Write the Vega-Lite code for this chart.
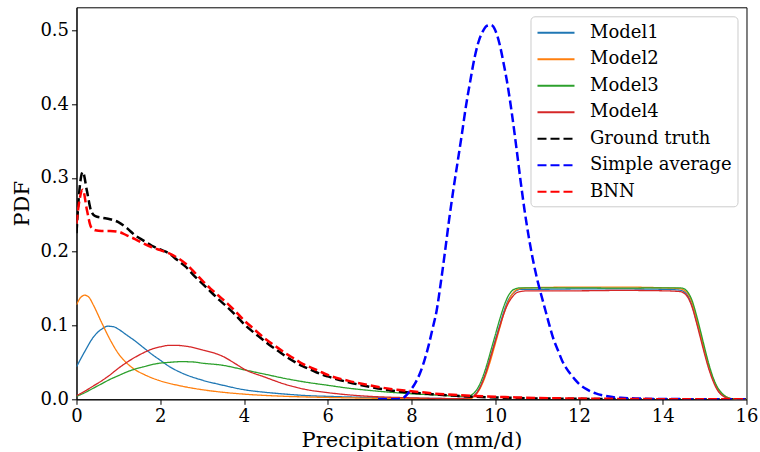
{
"$schema":"https://vega.github.io/schema/vega-lite/v6.json",
"width":670,"height":392,
"autosize":{"type":"none"},
"padding":{"left":76.5,"top":7.3,"right":13.3,"bottom":52.7},
"background":"white",
"datasets":{"pdf":[
{"s":"Model1","x":0,"y":0.044},{"s":"Model1","x":0.2,"y":0.065},{"s":"Model1","x":0.4,"y":0.084},{"s":"Model1","x":0.6,"y":0.095},{"s":"Model1","x":0.75,"y":0.099},{"s":"Model1","x":0.9,"y":0.098},{"s":"Model1","x":1.0,"y":0.095},{"s":"Model1","x":1.2,"y":0.087},{"s":"Model1","x":1.4,"y":0.079},{"s":"Model1","x":1.6,"y":0.070},{"s":"Model1","x":1.8,"y":0.061},{"s":"Model1","x":2.0,"y":0.053},{"s":"Model1","x":2.2,"y":0.045},{"s":"Model1","x":2.5,"y":0.036},{"s":"Model1","x":3.0,"y":0.026},{"s":"Model1","x":3.5,"y":0.019},{"s":"Model1","x":4.0,"y":0.013},{"s":"Model1","x":4.5,"y":0.0095},{"s":"Model1","x":5.0,"y":0.007},{"s":"Model1","x":5.5,"y":0.005},{"s":"Model1","x":6.0,"y":0.004},{"s":"Model1","x":7,"y":0.0025},{"s":"Model1","x":8,"y":0.0015},{"s":"Model1","x":9,"y":0.001},{"s":"Model1","x":9.4,"y":0.002},{"s":"Model1","x":9.5,"y":0.005},{"s":"Model1","x":9.6,"y":0.013},{"s":"Model1","x":9.7,"y":0.025},{"s":"Model1","x":9.8,"y":0.041},{"s":"Model1","x":9.9,"y":0.060},{"s":"Model1","x":10.0,"y":0.080},{"s":"Model1","x":10.1,"y":0.099},{"s":"Model1","x":10.2,"y":0.118},{"s":"Model1","x":10.3,"y":0.133},{"s":"Model1","x":10.4,"y":0.142},{"s":"Model1","x":10.5,"y":0.147},{"s":"Model1","x":10.6,"y":0.149},{"s":"Model1","x":11,"y":0.149},{"s":"Model1","x":12,"y":0.1495},{"s":"Model1","x":13,"y":0.1495},{"s":"Model1","x":14,"y":0.149},{"s":"Model1","x":14.4,"y":0.148},{"s":"Model1","x":14.5,"y":0.146},{"s":"Model1","x":14.6,"y":0.140},{"s":"Model1","x":14.7,"y":0.127},{"s":"Model1","x":14.8,"y":0.107},{"s":"Model1","x":14.9,"y":0.086},{"s":"Model1","x":15.0,"y":0.064},{"s":"Model1","x":15.1,"y":0.043},{"s":"Model1","x":15.2,"y":0.027},{"s":"Model1","x":15.3,"y":0.015},{"s":"Model1","x":15.4,"y":0.007},{"s":"Model1","x":15.5,"y":0.003},{"s":"Model1","x":15.6,"y":0.001},{"s":"Model1","x":15.8,"y":0},{"s":"Model1","x":16,"y":0},
{"s":"Model2","x":0,"y":0.128},{"s":"Model2","x":0.1,"y":0.138},{"s":"Model2","x":0.2,"y":0.141},{"s":"Model2","x":0.3,"y":0.138},{"s":"Model2","x":0.4,"y":0.128},{"s":"Model2","x":0.6,"y":0.104},{"s":"Model2","x":0.8,"y":0.081},{"s":"Model2","x":1.0,"y":0.062},{"s":"Model2","x":1.2,"y":0.049},{"s":"Model2","x":1.4,"y":0.040},{"s":"Model2","x":1.6,"y":0.034},{"s":"Model2","x":1.8,"y":0.029},{"s":"Model2","x":2.0,"y":0.025},{"s":"Model2","x":2.5,"y":0.018},{"s":"Model2","x":3.0,"y":0.013},{"s":"Model2","x":3.5,"y":0.0095},{"s":"Model2","x":4.0,"y":0.007},{"s":"Model2","x":5.0,"y":0.004},{"s":"Model2","x":6.0,"y":0.0025},{"s":"Model2","x":7,"y":0.0015},{"s":"Model2","x":8,"y":0.001},{"s":"Model2","x":9,"y":0.0007},{"s":"Model2","x":9.4,"y":0.001},{"s":"Model2","x":9.5,"y":0.004},{"s":"Model2","x":9.6,"y":0.011},{"s":"Model2","x":9.7,"y":0.022},{"s":"Model2","x":9.8,"y":0.037},{"s":"Model2","x":9.9,"y":0.055},{"s":"Model2","x":10.0,"y":0.075},{"s":"Model2","x":10.1,"y":0.095},{"s":"Model2","x":10.2,"y":0.115},{"s":"Model2","x":10.3,"y":0.131},{"s":"Model2","x":10.4,"y":0.142},{"s":"Model2","x":10.5,"y":0.148},{"s":"Model2","x":10.6,"y":0.150},{"s":"Model2","x":10.8,"y":0.151},{"s":"Model2","x":12,"y":0.152},{"s":"Model2","x":13,"y":0.152},{"s":"Model2","x":14,"y":0.151},{"s":"Model2","x":14.4,"y":0.150},{"s":"Model2","x":14.5,"y":0.148},{"s":"Model2","x":14.6,"y":0.143},{"s":"Model2","x":14.7,"y":0.131},{"s":"Model2","x":14.8,"y":0.111},{"s":"Model2","x":14.9,"y":0.089},{"s":"Model2","x":15.0,"y":0.066},{"s":"Model2","x":15.1,"y":0.045},{"s":"Model2","x":15.2,"y":0.028},{"s":"Model2","x":15.3,"y":0.016},{"s":"Model2","x":15.4,"y":0.008},{"s":"Model2","x":15.5,"y":0.004},{"s":"Model2","x":15.6,"y":0.0015},{"s":"Model2","x":15.7,"y":0.0005},{"s":"Model2","x":15.8,"y":0},{"s":"Model2","x":16,"y":0},
{"s":"Model3","x":0,"y":0.004},{"s":"Model3","x":0.2,"y":0.009},{"s":"Model3","x":0.4,"y":0.015},{"s":"Model3","x":0.6,"y":0.021},{"s":"Model3","x":0.8,"y":0.027},{"s":"Model3","x":1.0,"y":0.032},{"s":"Model3","x":1.2,"y":0.037},{"s":"Model3","x":1.4,"y":0.041},{"s":"Model3","x":1.6,"y":0.044},{"s":"Model3","x":1.8,"y":0.047},{"s":"Model3","x":2.0,"y":0.049},{"s":"Model3","x":2.2,"y":0.050},{"s":"Model3","x":2.5,"y":0.051},{"s":"Model3","x":2.8,"y":0.0505},{"s":"Model3","x":3.0,"y":0.049},{"s":"Model3","x":3.5,"y":0.046},{"s":"Model3","x":4.0,"y":0.040},{"s":"Model3","x":4.5,"y":0.034},{"s":"Model3","x":5.0,"y":0.028},{"s":"Model3","x":5.5,"y":0.023},{"s":"Model3","x":6.0,"y":0.019},{"s":"Model3","x":6.5,"y":0.015},{"s":"Model3","x":7.0,"y":0.012},{"s":"Model3","x":7.5,"y":0.0095},{"s":"Model3","x":8.0,"y":0.0075},{"s":"Model3","x":8.5,"y":0.006},{"s":"Model3","x":9.0,"y":0.0045},{"s":"Model3","x":9.3,"y":0.004},{"s":"Model3","x":9.4,"y":0.005},{"s":"Model3","x":9.5,"y":0.009},{"s":"Model3","x":9.6,"y":0.017},{"s":"Model3","x":9.7,"y":0.030},{"s":"Model3","x":9.8,"y":0.047},{"s":"Model3","x":9.9,"y":0.067},{"s":"Model3","x":10.0,"y":0.087},{"s":"Model3","x":10.1,"y":0.107},{"s":"Model3","x":10.2,"y":0.125},{"s":"Model3","x":10.3,"y":0.139},{"s":"Model3","x":10.4,"y":0.147},{"s":"Model3","x":10.5,"y":0.150},{"s":"Model3","x":10.6,"y":0.151},{"s":"Model3","x":12,"y":0.151},{"s":"Model3","x":13,"y":0.1505},{"s":"Model3","x":14,"y":0.151},{"s":"Model3","x":14.4,"y":0.151},{"s":"Model3","x":14.5,"y":0.150},{"s":"Model3","x":14.6,"y":0.145},{"s":"Model3","x":14.7,"y":0.134},{"s":"Model3","x":14.8,"y":0.115},{"s":"Model3","x":14.9,"y":0.093},{"s":"Model3","x":15.0,"y":0.070},{"s":"Model3","x":15.1,"y":0.048},{"s":"Model3","x":15.2,"y":0.030},{"s":"Model3","x":15.3,"y":0.017},{"s":"Model3","x":15.4,"y":0.009},{"s":"Model3","x":15.5,"y":0.004},{"s":"Model3","x":15.6,"y":0.0015},{"s":"Model3","x":15.8,"y":0},{"s":"Model3","x":16,"y":0},
{"s":"Model4","x":0,"y":0.005},{"s":"Model4","x":0.2,"y":0.011},{"s":"Model4","x":0.4,"y":0.018},{"s":"Model4","x":0.6,"y":0.025},{"s":"Model4","x":0.8,"y":0.033},{"s":"Model4","x":1.0,"y":0.042},{"s":"Model4","x":1.2,"y":0.050},{"s":"Model4","x":1.4,"y":0.057},{"s":"Model4","x":1.6,"y":0.063},{"s":"Model4","x":1.8,"y":0.068},{"s":"Model4","x":2.0,"y":0.071},{"s":"Model4","x":2.2,"y":0.073},{"s":"Model4","x":2.4,"y":0.073},{"s":"Model4","x":2.6,"y":0.072},{"s":"Model4","x":2.8,"y":0.070},{"s":"Model4","x":3.0,"y":0.067},{"s":"Model4","x":3.5,"y":0.058},{"s":"Model4","x":3.8,"y":0.048},{"s":"Model4","x":4.0,"y":0.041},{"s":"Model4","x":4.5,"y":0.030},{"s":"Model4","x":5.0,"y":0.020},{"s":"Model4","x":5.5,"y":0.013},{"s":"Model4","x":6.0,"y":0.009},{"s":"Model4","x":6.5,"y":0.006},{"s":"Model4","x":7.0,"y":0.004},{"s":"Model4","x":8,"y":0.002},{"s":"Model4","x":9,"y":0.001},{"s":"Model4","x":9.4,"y":0.002},{"s":"Model4","x":9.5,"y":0.005},{"s":"Model4","x":9.6,"y":0.012},{"s":"Model4","x":9.7,"y":0.024},{"s":"Model4","x":9.8,"y":0.040},{"s":"Model4","x":9.9,"y":0.059},{"s":"Model4","x":10.0,"y":0.078},{"s":"Model4","x":10.1,"y":0.097},{"s":"Model4","x":10.2,"y":0.115},{"s":"Model4","x":10.3,"y":0.129},{"s":"Model4","x":10.4,"y":0.138},{"s":"Model4","x":10.5,"y":0.144},{"s":"Model4","x":10.6,"y":0.146},{"s":"Model4","x":10.8,"y":0.147},{"s":"Model4","x":12,"y":0.147},{"s":"Model4","x":13,"y":0.1475},{"s":"Model4","x":14,"y":0.147},{"s":"Model4","x":14.4,"y":0.146},{"s":"Model4","x":14.5,"y":0.144},{"s":"Model4","x":14.6,"y":0.138},{"s":"Model4","x":14.7,"y":0.125},{"s":"Model4","x":14.8,"y":0.105},{"s":"Model4","x":14.9,"y":0.083},{"s":"Model4","x":15.0,"y":0.061},{"s":"Model4","x":15.1,"y":0.041},{"s":"Model4","x":15.2,"y":0.025},{"s":"Model4","x":15.3,"y":0.013},{"s":"Model4","x":15.4,"y":0.006},{"s":"Model4","x":15.5,"y":0.0025},{"s":"Model4","x":15.6,"y":0.001},{"s":"Model4","x":15.8,"y":0},{"s":"Model4","x":16,"y":0},
{"s":"Ground truth","x":0,"y":0.225},{"s":"Ground truth","x":0.05,"y":0.27},{"s":"Ground truth","x":0.15,"y":0.308},{"s":"Ground truth","x":0.25,"y":0.282},{"s":"Ground truth","x":0.35,"y":0.255},{"s":"Ground truth","x":0.45,"y":0.248},{"s":"Ground truth","x":0.6,"y":0.246},{"s":"Ground truth","x":0.8,"y":0.244},{"s":"Ground truth","x":1.0,"y":0.240},{"s":"Ground truth","x":1.2,"y":0.232},{"s":"Ground truth","x":1.4,"y":0.222},{"s":"Ground truth","x":1.6,"y":0.215},{"s":"Ground truth","x":1.8,"y":0.208},{"s":"Ground truth","x":2.0,"y":0.203},{"s":"Ground truth","x":2.2,"y":0.198},{"s":"Ground truth","x":2.4,"y":0.189},{"s":"Ground truth","x":2.6,"y":0.180},{"s":"Ground truth","x":2.8,"y":0.168},{"s":"Ground truth","x":3.0,"y":0.157},{"s":"Ground truth","x":3.2,"y":0.146},{"s":"Ground truth","x":3.4,"y":0.135},{"s":"Ground truth","x":3.6,"y":0.125},{"s":"Ground truth","x":3.8,"y":0.114},{"s":"Ground truth","x":4.0,"y":0.102},{"s":"Ground truth","x":4.2,"y":0.092},{"s":"Ground truth","x":4.4,"y":0.083},{"s":"Ground truth","x":4.6,"y":0.074},{"s":"Ground truth","x":4.8,"y":0.066},{"s":"Ground truth","x":5.0,"y":0.058},{"s":"Ground truth","x":5.2,"y":0.051},{"s":"Ground truth","x":5.4,"y":0.045},{"s":"Ground truth","x":5.6,"y":0.040},{"s":"Ground truth","x":5.8,"y":0.035},{"s":"Ground truth","x":6.0,"y":0.031},{"s":"Ground truth","x":6.5,"y":0.023},{"s":"Ground truth","x":7.0,"y":0.017},{"s":"Ground truth","x":7.5,"y":0.012},{"s":"Ground truth","x":8.0,"y":0.009},{"s":"Ground truth","x":8.5,"y":0.007},{"s":"Ground truth","x":9.0,"y":0.005},{"s":"Ground truth","x":9.5,"y":0.0035},{"s":"Ground truth","x":10,"y":0.0025},{"s":"Ground truth","x":10.5,"y":0.0018},{"s":"Ground truth","x":11,"y":0.0012},{"s":"Ground truth","x":12,"y":0.0006},{"s":"Ground truth","x":13,"y":0.0003},{"s":"Ground truth","x":14,"y":0.0001},{"s":"Ground truth","x":16,"y":0},
{"s":"Simple average","x":7.2,"y":0},{"s":"Simple average","x":7.6,"y":0},{"s":"Simple average","x":7.76,"y":0.0005},{"s":"Simple average","x":7.9,"y":0.007},{"s":"Simple average","x":8.0,"y":0.014},{"s":"Simple average","x":8.1,"y":0.023},{"s":"Simple average","x":8.2,"y":0.035},{"s":"Simple average","x":8.3,"y":0.051},{"s":"Simple average","x":8.4,"y":0.071},{"s":"Simple average","x":8.5,"y":0.095},{"s":"Simple average","x":8.6,"y":0.120},{"s":"Simple average","x":8.7,"y":0.158},{"s":"Simple average","x":8.8,"y":0.200},{"s":"Simple average","x":8.9,"y":0.244},{"s":"Simple average","x":9.0,"y":0.284},{"s":"Simple average","x":9.1,"y":0.321},{"s":"Simple average","x":9.2,"y":0.358},{"s":"Simple average","x":9.3,"y":0.397},{"s":"Simple average","x":9.4,"y":0.430},{"s":"Simple average","x":9.5,"y":0.461},{"s":"Simple average","x":9.6,"y":0.484},{"s":"Simple average","x":9.7,"y":0.498},{"s":"Simple average","x":9.8,"y":0.506},{"s":"Simple average","x":9.9,"y":0.507},{"s":"Simple average","x":10.0,"y":0.500},{"s":"Simple average","x":10.1,"y":0.482},{"s":"Simple average","x":10.2,"y":0.455},{"s":"Simple average","x":10.3,"y":0.424},{"s":"Simple average","x":10.4,"y":0.386},{"s":"Simple average","x":10.5,"y":0.343},{"s":"Simple average","x":10.6,"y":0.298},{"s":"Simple average","x":10.7,"y":0.256},{"s":"Simple average","x":10.8,"y":0.220},{"s":"Simple average","x":10.9,"y":0.189},{"s":"Simple average","x":11.0,"y":0.163},{"s":"Simple average","x":11.1,"y":0.141},{"s":"Simple average","x":11.2,"y":0.120},{"s":"Simple average","x":11.3,"y":0.099},{"s":"Simple average","x":11.4,"y":0.080},{"s":"Simple average","x":11.5,"y":0.066},{"s":"Simple average","x":11.6,"y":0.052},{"s":"Simple average","x":11.7,"y":0.042},{"s":"Simple average","x":11.8,"y":0.034},{"s":"Simple average","x":11.9,"y":0.027},{"s":"Simple average","x":12.0,"y":0.021},{"s":"Simple average","x":12.2,"y":0.013},{"s":"Simple average","x":12.4,"y":0.008},{"s":"Simple average","x":12.6,"y":0.005},{"s":"Simple average","x":12.8,"y":0.003},{"s":"Simple average","x":13.0,"y":0.002},{"s":"Simple average","x":13.5,"y":0.001},{"s":"Simple average","x":14,"y":0.0004},{"s":"Simple average","x":16,"y":0},
{"s":"BNN","x":0,"y":0.238},{"s":"BNN","x":0.05,"y":0.262},{"s":"BNN","x":0.15,"y":0.284},{"s":"BNN","x":0.25,"y":0.256},{"s":"BNN","x":0.35,"y":0.233},{"s":"BNN","x":0.45,"y":0.229},{"s":"BNN","x":0.6,"y":0.228},{"s":"BNN","x":0.8,"y":0.228},{"s":"BNN","x":1.0,"y":0.227},{"s":"BNN","x":1.2,"y":0.222},{"s":"BNN","x":1.4,"y":0.217},{"s":"BNN","x":1.6,"y":0.211},{"s":"BNN","x":1.8,"y":0.206},{"s":"BNN","x":2.0,"y":0.202},{"s":"BNN","x":2.2,"y":0.198},{"s":"BNN","x":2.4,"y":0.192},{"s":"BNN","x":2.6,"y":0.184},{"s":"BNN","x":2.8,"y":0.173},{"s":"BNN","x":3.0,"y":0.161},{"s":"BNN","x":3.2,"y":0.150},{"s":"BNN","x":3.4,"y":0.140},{"s":"BNN","x":3.6,"y":0.130},{"s":"BNN","x":3.8,"y":0.119},{"s":"BNN","x":4.0,"y":0.107},{"s":"BNN","x":4.2,"y":0.097},{"s":"BNN","x":4.4,"y":0.087},{"s":"BNN","x":4.6,"y":0.078},{"s":"BNN","x":4.8,"y":0.070},{"s":"BNN","x":5.0,"y":0.062},{"s":"BNN","x":5.2,"y":0.055},{"s":"BNN","x":5.4,"y":0.048},{"s":"BNN","x":5.6,"y":0.043},{"s":"BNN","x":5.8,"y":0.038},{"s":"BNN","x":6.0,"y":0.033},{"s":"BNN","x":6.5,"y":0.025},{"s":"BNN","x":7.0,"y":0.019},{"s":"BNN","x":7.5,"y":0.014},{"s":"BNN","x":8.0,"y":0.011},{"s":"BNN","x":8.5,"y":0.008},{"s":"BNN","x":9.0,"y":0.006},{"s":"BNN","x":9.5,"y":0.0045},{"s":"BNN","x":10,"y":0.0035},{"s":"BNN","x":10.5,"y":0.0025},{"s":"BNN","x":11,"y":0.0018},{"s":"BNN","x":12,"y":0.001},{"s":"BNN","x":13,"y":0.0005},{"s":"BNN","x":14,"y":0.0002},{"s":"BNN","x":16,"y":0}
]},
"data":{"name":"pdf"},
"mark":{"type":"line","interpolate":"monotone","clip":true},
"encoding":{
"x":{"field":"x","type":"quantitative","scale":{"domain":[0,16],"nice":false,"zero":false},"axis":{"values":[0,2,4,6,8,10,12,14,16],"format":"d","title":"Precipitation (mm/d)","labelFlush":false}},
"y":{"field":"y","type":"quantitative","scale":{"domain":[0,0.531],"nice":false},"axis":{"values":[0,0.1,0.2,0.3,0.4,0.5],"format":".1f","title":"PDF","labelFlush":false}},
"color":{"field":"s","type":"nominal","title":null,"sort":null,"scale":{"domain":["Model1","Model2","Model3","Model4","Ground truth","Simple average","BNN"],"range":["#1f77b4","#ff7f0e","#2ca02c","#d62728","#000000","#0000ff","#ff0000"]}},
"strokeDash":{"field":"s","type":"nominal","title":null,"sort":null,"scale":{"domain":["Model1","Model2","Model3","Model4","Ground truth","Simple average","BNN"],"range":[[1,0],[1,0],[1,0],[1,0],[9,4],[9,4],[9,4]]}},
"strokeWidth":{"condition":{"test":"datum.s=='Ground truth'||datum.s=='Simple average'||datum.s=='BNN'","value":2.5},"value":1.3}
},
"config":{
"view":{"stroke":"#000000","strokeWidth":1},
"axis":{"grid":false,"domainColor":"#000000","domainWidth":1,"tickColor":"#000000","tickSize":5,"tickWidth":1,"labelColor":"#000000","labelFont":"DejaVu Serif","labelFontSize":18,"labelPadding":3,"titleFont":"DejaVu Serif","titleFontSize":21,"titleFontWeight":"normal","titleColor":"#000000"},
"axisX":{"titlePadding":4},
"axisY":{"titlePadding":7},
"legend":{"orient":"top-right","offset":9,"padding":5.5,"rowPadding":6.5,"symbolType":"M-1.85,0H1.85","symbolSize":400,"symbolOffset":9,"symbolStrokeWidth":2,"labelFont":"DejaVu Serif","labelFontSize":18,"labelColor":"#000000","labelOffset":23,"strokeColor":"#cccccc","cornerRadius":4,"fillColor":"#ffffff"}
}
}
